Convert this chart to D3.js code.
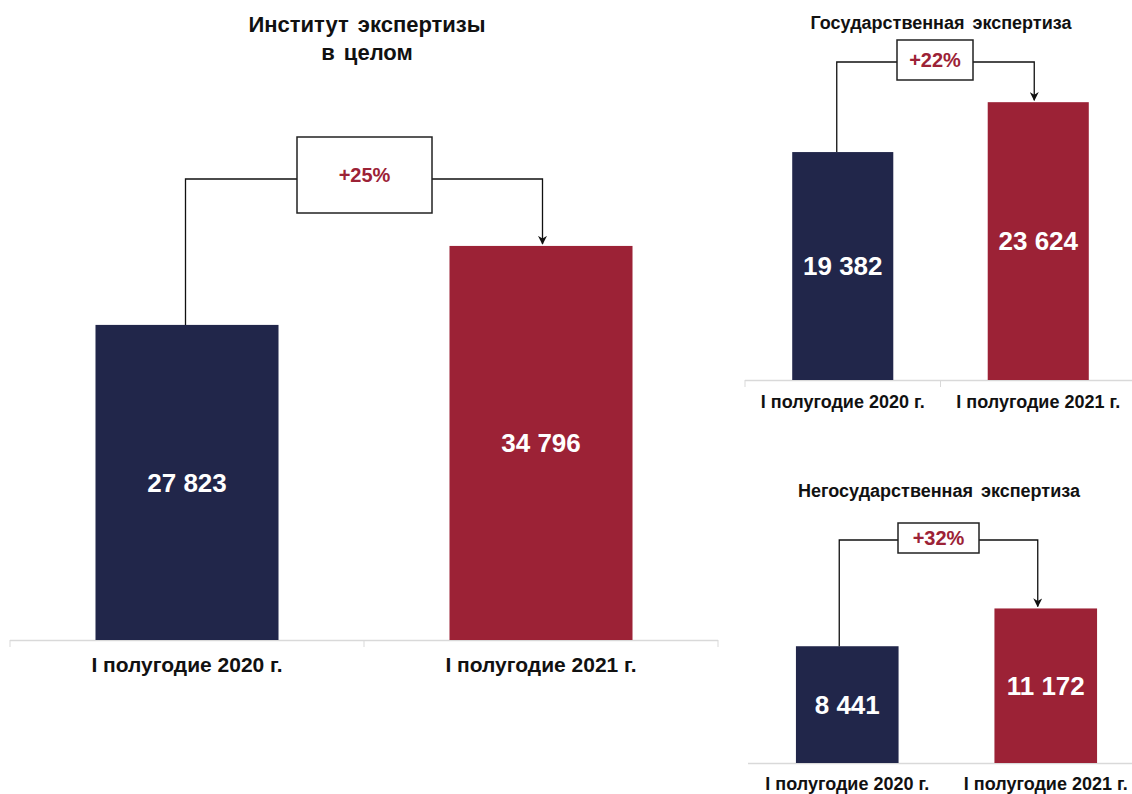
<!DOCTYPE html>
<html>
<head>
<meta charset="utf-8">
<script src="https://cdn.jsdelivr.net/npm/d3@7"></script>
<style>
  body { margin: 0; background: #fff; }
  svg { display: block; font-family: "Liberation Sans", Arial, sans-serif; }
</style>
</head>
<body>
<svg id="chart" width="1132" height="794"></svg>
<script>
// data
const periods = ["I полугодие 2020 г.", "I полугодие 2021 г."];
const totalValues = [27823, 34796];
const stateValues = [19382, 23624];
const privateValues = [8441, 11172];
const growthLabels = ["+25%", "+22%", "+32%"];
const panelTitles = [["Институт экспертизы", "в целом"], ["Государственная экспертиза"], ["Негосударственная экспертиза"]];

const colors = ["#21264a", "#9c2236"];
const fmt = v => d3.format(",")(v).replace(/,/g, " ");

const svg = d3.select("#chart");

svg.append("defs").append("marker")
    .attr("id", "arrow")
    .attr("viewBox", "0 0 10 10")
    .attr("refX", 9).attr("refY", 5)
    .attr("markerWidth", 9).attr("markerHeight", 9)
    .attr("markerUnits", "userSpaceOnUse")
    .attr("orient", "auto")
    .append("path")
    .attr("d", "M0,0 L10,5 L0,10 L3,5 Z")
    .attr("fill", "#111");

const panels = [
    { values: totalValues, growth: growthLabels[0], title: panelTitles[0],
      x0: 10, x1: 718, base: 640, yMax: 40000, top: 187,
      titleX: 367, titleY: [32, 60], titleSize: 22,
      box: { x: 297, y: 137, w: 135, h: 76 }, linkY: 179, shift: [-1.5, 1.5],
      valueSize: 26, catSize: 21, catY: 672, ticks: true },
    { values: stateValues, growth: growthLabels[1], title: panelTitles[1],
      x0: 745, x1: 1136, base: 380, yMax: 25000, top: 86,
      titleX: 941, titleY: [29], titleSize: 18,
      box: { x: 897, y: 40, w: 76, h: 40 }, linkY: 62, shift: [-6, -4],
      valueSize: 26, catSize: 18, catY: 408, ticks: true },
    { values: privateValues, growth: growthLabels[2], title: panelTitles[2],
      x0: 748, x1: 1145, base: 763, yMax: 12000, top: 597,
      titleX: 939, titleY: [497], titleSize: 18,
      box: { x: 898, y: 523, w: 81, h: 30 }, linkY: 540, shift: [-8, -8],
      valueSize: 26, catSize: 18, catY: 790, ticks: false }
];

panels.forEach(p => drawPanel(p));

function drawPanel(p) {
    const g = svg.append("g");

    const x = d3.scaleBand()
        .domain(periods)
        .range([p.x0, p.x1])
        .paddingInner(0.483)
        .paddingOuter(0.2415);

    const y = d3.scaleLinear()
        .domain([0, p.yMax])
        .range([p.base, p.top]);

    const rows = periods.map((k, i) => ({ key: k, value: p.values[i], color: colors[i] }));

    // title
    g.selectAll(".title")
        .data(p.title)
        .join("text")
        .attr("class", "title")
        .attr("x", p.titleX)
        .attr("y", (d, i) => p.titleY[i])
        .attr("text-anchor", "middle")
        .attr("font-size", p.titleSize)
        .attr("font-weight", "bold")
        .attr("word-spacing", 3)
        .attr("fill", "#111")
        .text(d => d);

    // baseline
    g.append("line")
        .attr("x1", p.x0).attr("x2", p.x1)
        .attr("y1", p.base + 0.5).attr("y2", p.base + 0.5)
        .attr("stroke", "#d9d9d9").attr("stroke-width", 1.5);

    if (p.ticks) {
        const step = x.step();
        const bounds = [p.x0, p.x0 + step, p.x1];
        g.selectAll(".tick")
            .data(bounds)
            .join("line")
            .attr("class", "tick")
            .attr("x1", d => d).attr("x2", d => d)
            .attr("y1", p.base).attr("y2", p.base + 7)
            .attr("stroke", "#d9d9d9").attr("stroke-width", 1);
    }

    // bars
    g.selectAll(".bar")
        .data(rows)
        .join("rect")
        .attr("class", "bar")
        .attr("x", d => x(d.key))
        .attr("y", d => y(d.value))
        .attr("width", x.bandwidth())
        .attr("height", d => p.base - y(d.value))
        .attr("fill", d => d.color);

    // values
    g.selectAll(".val")
        .data(rows)
        .join("text")
        .attr("class", "val")
        .attr("x", d => x(d.key) + x.bandwidth() / 2)
        .attr("y", d => (y(d.value) + p.base) / 2)
        .attr("dy", "0.36em")
        .attr("text-anchor", "middle")
        .attr("font-size", p.valueSize)
        .attr("font-weight", "bold")
        .attr("fill", "#fff")
        .text(d => fmt(d.value));

    // categories
    g.selectAll(".cat")
        .data(rows)
        .join("text")
        .attr("class", "cat")
        .attr("x", d => x(d.key) + x.bandwidth() / 2)
        .attr("y", p.catY)
        .attr("text-anchor", "middle")
        .attr("font-size", p.catSize)
        .attr("font-weight", "bold")
        .attr("fill", "#111")
        .text(d => d.key);

    // connector
    const cx0 = x(periods[0]) + x.bandwidth() / 2 + p.shift[0];
    const cx1 = x(periods[1]) + x.bandwidth() / 2 + p.shift[1];
    g.append("path")
        .attr("d", `M${cx0},${y(p.values[0])} V${p.linkY} H${p.box.x}`)
        .attr("fill", "none").attr("stroke", "#111").attr("stroke-width", 1.3);
    g.append("path")
        .attr("d", `M${p.box.x + p.box.w},${p.linkY} H${cx1} V${y(p.values[1]) - 2}`)
        .attr("fill", "none").attr("stroke", "#111").attr("stroke-width", 1.3)
        .attr("marker-end", "url(#arrow)");

    g.append("rect")
        .attr("x", p.box.x).attr("y", p.box.y)
        .attr("width", p.box.w).attr("height", p.box.h)
        .attr("fill", "#fff").attr("stroke", "#222").attr("stroke-width", 1.5);

    g.append("text")
        .attr("x", p.box.x + p.box.w / 2)
        .attr("y", p.box.y + p.box.h / 2)
        .attr("dy", "0.36em")
        .attr("text-anchor", "middle")
        .attr("font-size", 20)
        .attr("font-weight", "bold")
        .attr("fill", colors[1])
        .text(p.growth);
}
</script>
</body>
</html>
